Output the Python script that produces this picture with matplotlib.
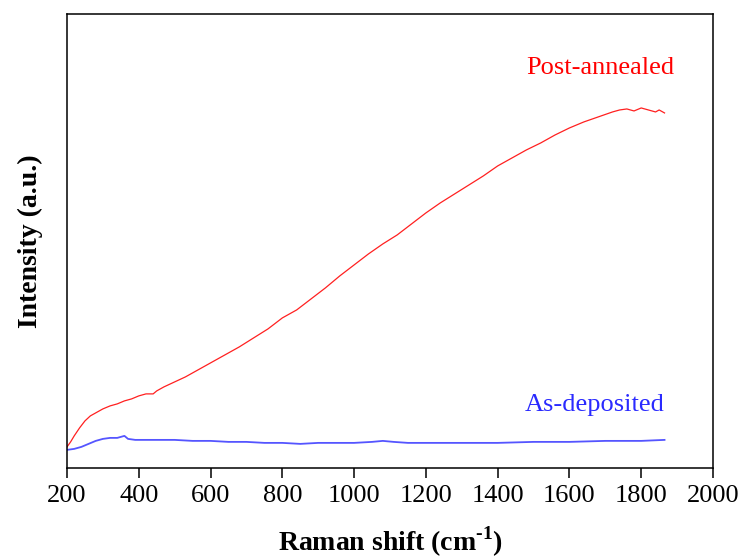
import numpy as np
import matplotlib
matplotlib.use('Agg')
import matplotlib.pyplot as plt

plt.rcParams['font.family'] = ['Liberation Serif', 'DejaVu Serif']
plt.rcParams['mathtext.fontset'] = 'custom'
plt.rcParams['mathtext.rm'] = 'Liberation Serif:bold'
plt.rcParams['mathtext.bf'] = 'Liberation Serif:bold'

# post-annealed spectrum
x_post = [200, 210, 220, 235, 250, 265, 280, 300, 320, 340, 360, 380, 400, 420,
          440, 450, 470, 500, 530, 560, 600, 640, 680, 720, 760, 800, 840, 880,
          920, 960, 1000, 1040, 1080, 1120, 1160, 1200, 1240, 1280, 1320, 1360,
          1400, 1440, 1480, 1520, 1560, 1600, 1640, 1680, 1720, 1740, 1760, 1780,
          1800, 1820, 1840, 1850, 1865]
y_post = [21, 26, 32, 40, 47, 52, 55, 59, 62, 64, 67, 69, 72, 74,
          74, 77, 81, 86, 91, 97, 105, 113, 121, 130, 139, 150, 158, 169,
          180, 192, 203, 214, 224, 233, 244, 255, 265, 274, 283, 292,
          302, 310, 318, 325, 333, 340, 346, 351, 356, 358, 359, 357,
          360, 358, 356, 358, 355]

# as-deposited spectrum
x_as = [200, 220, 240, 260, 280, 300, 320, 340, 350, 360, 370, 390, 420, 460,
        500, 550, 600, 650, 700, 750, 800, 850, 900, 950, 1000, 1050, 1080,
        1110, 1150, 1200, 1300, 1400, 1500, 1600, 1700, 1800, 1865]
y_as = [18, 19, 21, 24, 27, 29, 30, 30, 31, 32, 29, 28, 28, 28,
        28, 27, 27, 26, 26, 25, 25, 24, 25, 25, 25, 26, 27,
        26, 25, 25, 25, 25, 26, 26, 27, 27, 28]

xticks = np.arange(200, 2001, 200)

fig = plt.figure(figsize=(7.43, 5.59), dpi=100)
ax = fig.add_axes([0.0902, 0.163, 0.8694, 0.812])

ax.plot(x_post, y_post, color='#ff2020', lw=0.9)
ax.plot(x_as, y_as, color='#5555ff', lw=1.3)

ax.text(1685, 400, 'Post-annealed', color='red', fontsize=19, ha='center', va='center')
ax.text(1671, 63, 'As-deposited', color='#2a2aff', fontsize=19, ha='center', va='center')

ax.set_xlim(200, 2000)
ax.set_ylim(0, 454)
ax.set_xticks(xticks)
ax.set_yticks([])
ax.tick_params(axis='x', direction='out', length=7, width=1.1, labelsize=19, pad=5)
for s in ax.spines.values():
    s.set_linewidth(1.1)

ax.set_xlabel(r'Raman shift (cm$^{\text{-1}}$)', fontsize=20, fontweight='bold', labelpad=13)
ax.set_ylabel('Intensity (a.u.)', fontsize=20, fontweight='bold', labelpad=17)

fig.savefig('out.png', dpi=100)
